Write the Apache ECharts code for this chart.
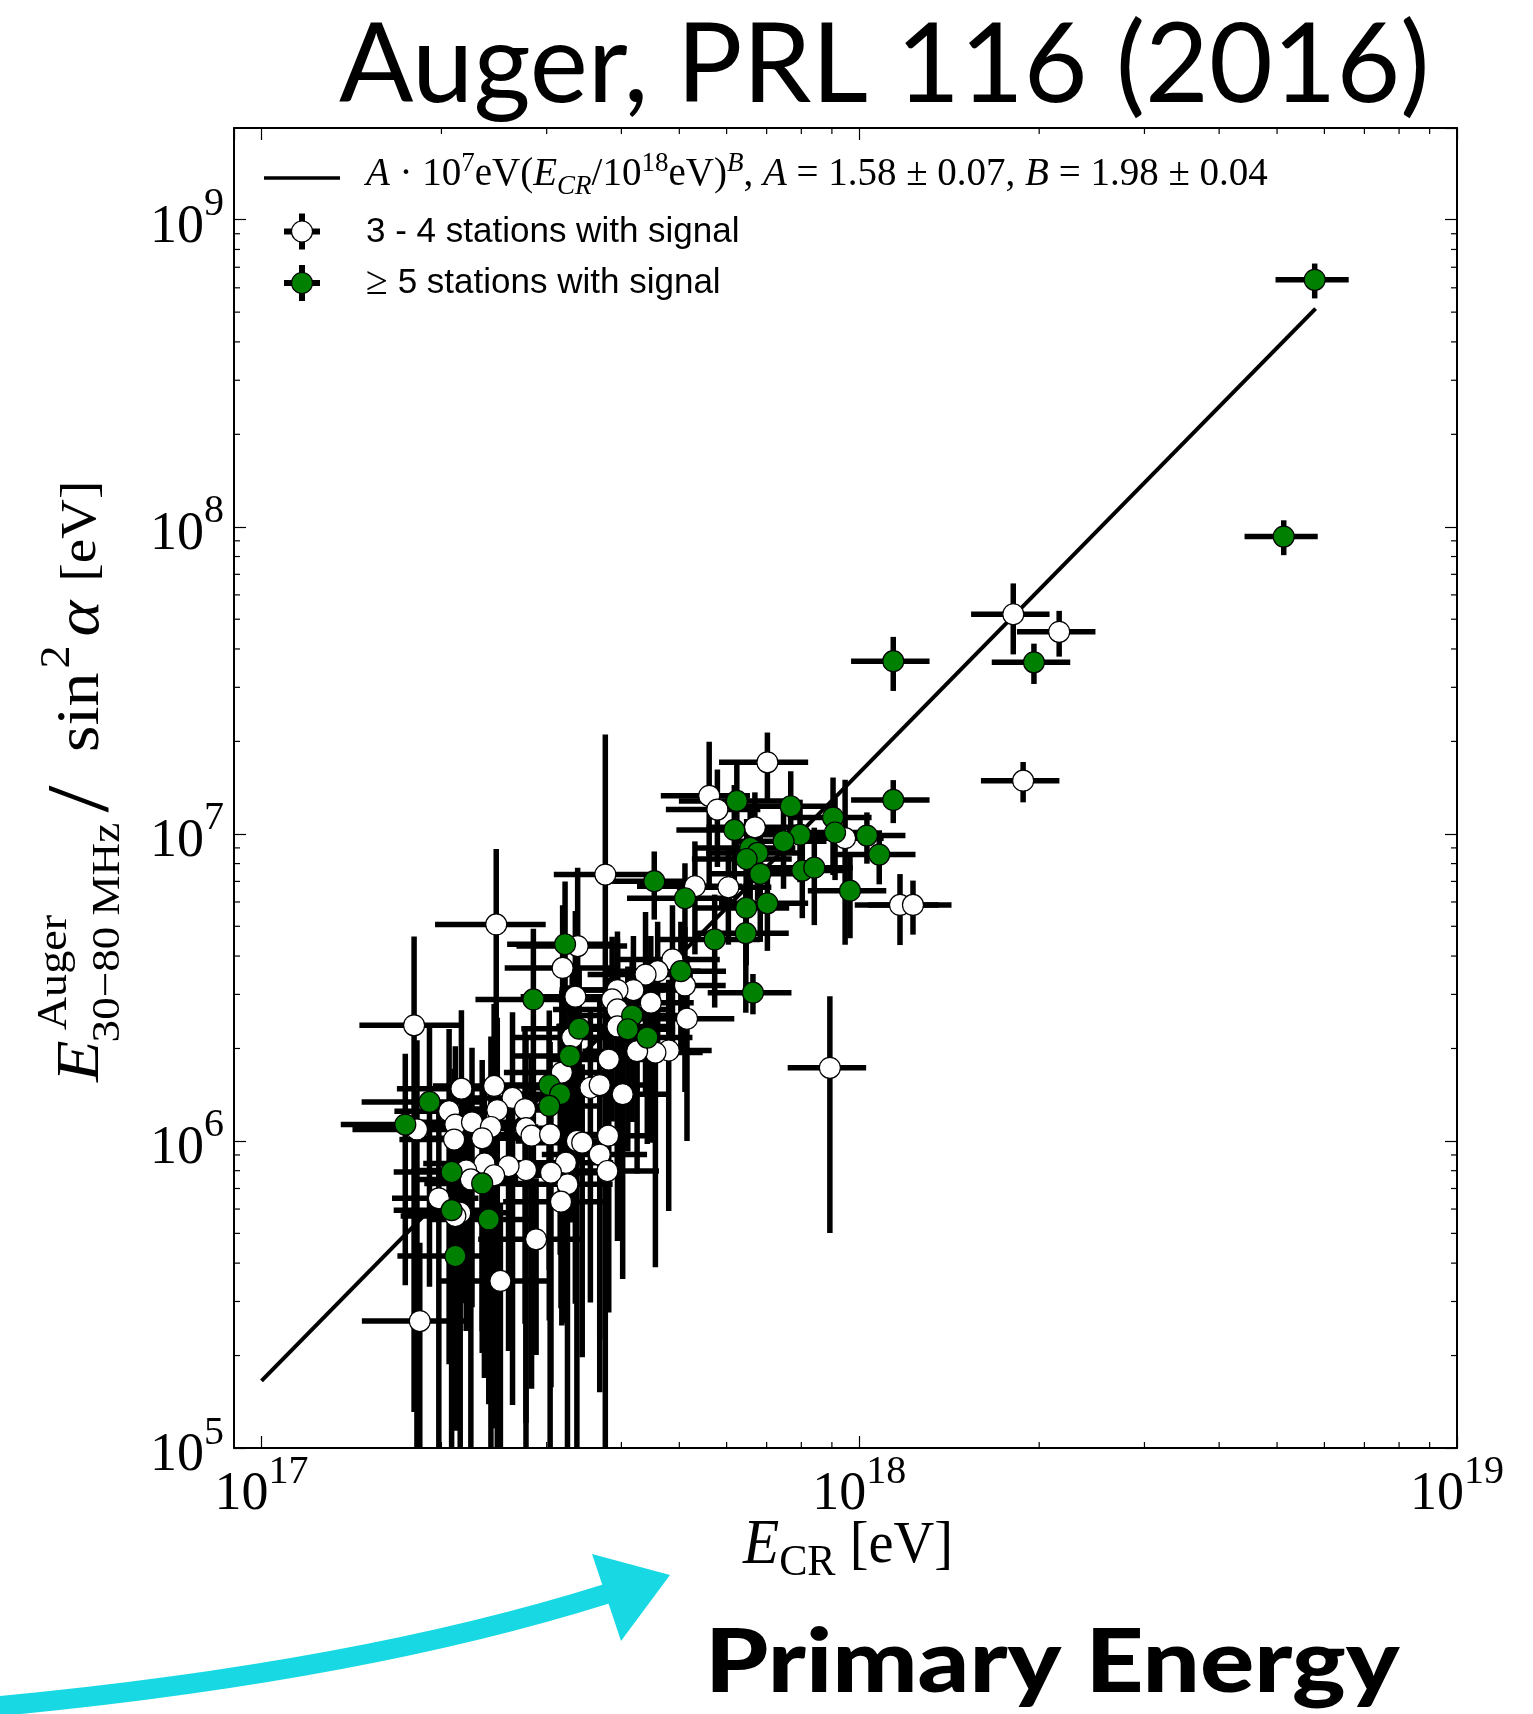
<!DOCTYPE html>
<html>
<head>
<meta charset="utf-8">
<title>Auger, PRL 116 (2016)</title>
<script src="https://cdn.jsdelivr.net/npm/echarts@6.0.0/dist/echarts.min.js"></script>
<style>
html,body{margin:0;padding:0;background:#ffffff;}
#chart{width:1533px;height:1714px;}
</style>
</head>
<body>
<div id="chart"></div>
<script>
// ---------------- data ----------------
// 3 - 4 stations with signal (open markers)
const whiteEnergy = [1.81e18, 2.16e18, 1.88e18, 8.93e17, 7.02e17, 5.61e17, 5.79e17, 6.69e17, 9.47e17, 1.17e18, 1.23e18,
  5.31e17, 6.04e17, 3.76e17, 2.47e17, 1.80e17, 4.87e17, 4.60e17, 4.39e17, 5.11e17, 4.19e17, 4.48e17, 5.15e17, 4.80e17,
  4.56e17, 4.25e17, 3.94e17, 3.86e17, 3.94e17, 3.38e17, 3.19e17, 3.35e17, 3.31e17, 3.94e17, 3.81e17,
  3.18e17, 3.55e17, 3.68e17, 4.02e17, 2.16e17, 2.45e17, 2.63e17, 2.76e17, 2.06e17, 2.48e17, 1.82e17, 2.11e17, 2.25e17,
  2.42e17, 2.10e17, 2.34e17, 2.77e17, 2.83e17, 3.04e17, 3.37e17, 3.44e17, 3.80e17, 3.68e17, 3.79e17, 3.23e17, 3.25e17,
  3.17e17, 3.05e17, 2.77e17, 2.59e17, 2.36e17, 2.45e17, 2.20e17, 2.24e17, 1.98e17, 2.15e17, 2.11e17, 2.88e17, 2.51e17, 1.84e17];
const whiteFluence = [5.19e7, 4.55e7, 1.49e7, 1.73e6, 1.71e7, 1.33e7, 1.20e7, 1.05e7, 9.68e6, 5.87e6, 5.87e6,
  6.75e6, 6.70e6, 7.37e6, 5.07e6, 2.38e6, 3.90e6, 3.57e6, 3.48e6, 3.21e6, 3.10e6, 2.82e6, 2.50e6, 1.97e6,
  1.94e6, 1.96e6, 3.10e6, 2.89e6, 2.68e6, 4.31e6, 3.66e6, 2.95e6, 2.17e6, 2.36e6, 1.84e6,
  1.67e6, 1.49e6, 1.52e6, 1.42e6, 1.48e6, 1.51e6, 1.38e6, 1.27e6, 1.25e6, 1.26e6, 1.09e6, 1.13e6, 1.15e6,
  1.11e6, 1.01e6, 1.02e6, 1.10e6, 1.04e6, 1.05e6, 1.00e6, 9.87e5, 1.04e6, 9.03e5, 7.98e5, 8.49e5, 7.22e5,
  6.34e5, 7.88e5, 8.04e5, 8.28e5, 8.45e5, 7.73e5, 8.01e5, 7.49e5, 6.50e5, 5.84e5, 5.69e5, 4.78e5, 3.50e5, 2.59e5];
// relative uncertainties (sigma / value)
const whiteRelErrEnergy = [0.15, 0.15, 0.15, 0.15, 0.17, 0.17, 0.18, 0.17, 0.16, 0.16, 0.16,
  0.20, 0.18, 0.18, 0.21, 0.19, 0.20, 0.18, 0.20, 0.17, 0.20, 0.18, 0.20, 0.18,
  0.20, 0.19, 0.20, 0.19, 0.22, 0.21, 0.20, 0.19, 0.20, 0.21, 0.20,
  0.20, 0.21, 0.19, 0.20, 0.22, 0.21, 0.20, 0.21, 0.19, 0.20, 0.22, 0.20, 0.21,
  0.20, 0.19, 0.21, 0.20, 0.18, 0.20, 0.21, 0.20, 0.19, 0.20, 0.22, 0.20, 0.19,
  0.20, 0.21, 0.20, 0.18, 0.21, 0.20, 0.19, 0.20, 0.165, 0.20, 0.19, 0.20, 0.21, 0.20];
const whiteRelErrFluence = [0.26, 0.17, 0.15, 0.71, 0.25, 0.50, 0.35, 0.30, 0.55, 0.26, 0.20,
  0.40, 0.35, 1.86, 0.76, 0.945, 0.50, 0.45, 0.60, 0.55, 0.50, 0.65, 0.60, 0.70,
  0.80, 0.60, 0.55, 0.60, 0.70, 0.80, 0.60, 0.90, 0.75, 0.80, 0.85,
  0.85, 0.80, 0.90, 0.75, 0.80, 0.85, 0.90, 0.80, 0.85, 1.00, 0.95, 0.80, 0.75,
  0.97, 0.70, 0.80, 0.95, 0.85, 1.00, 0.95, 0.80, 0.70, 0.75, 0.60, 0.70, 0.90,
  0.55, 0.80, 0.85, 0.75, 0.80, 0.85, 0.70, 0.95, 0.90, 0.95, 0.80, 0.58, 0.80, 0.80];

// >= 5 stations with signal (green markers)
const greenEnergy = [5.78e18, 5.13e18, 1.14e18, 1.96e18, 1.14e18, 6.24e17, 7.68e17, 9.04e17, 9.11e17, 1.03e18,
  1.08e18, 6.18e17, 7.96e17, 7.47e17, 6.57e17, 6.76e17, 6.48e17, 6.83e17, 8.03e17, 8.41e17,
  9.65e17, 4.54e17, 5.11e17, 6.47e17, 7.02e17, 5.73e17, 6.46e17, 6.64e17, 5.03e17, 4.17e17,
  4.10e17, 4.42e17, 3.22e17, 2.85e17, 3.40e17, 3.28e17, 3.03e17, 3.16e17, 3.03e17, 1.91e17,
  1.74e17, 2.08e17, 2.34e17, 2.08e17, 2.40e17, 2.11e17];
const greenFluence = [6.37e8, 9.29e7, 3.65e7, 3.62e7, 1.29e7, 1.28e7, 1.23e7, 1.13e7, 1.01e7, 9.87e6,
  8.56e6, 1.03e7, 9.94e6, 9.46e6, 9.00e6, 8.67e6, 8.28e6, 7.41e6, 7.59e6, 7.76e6,
  6.53e6, 7.01e6, 6.17e6, 5.74e6, 5.94e6, 4.53e6, 4.75e6, 3.04e6, 3.57e6, 2.56e6,
  2.31e6, 2.17e6, 4.37e6, 2.89e6, 2.32e6, 1.89e6, 1.52e6, 1.42e6, 1.30e6, 1.34e6,
  1.13e6, 7.92e5, 7.27e5, 5.95e5, 5.55e5, 4.22e5];
const greenRelErrEnergy = [0.14, 0.14, 0.15, 0.15, 0.15, 0.20, 0.17, 0.16, 0.17, 0.16,
  0.15, 0.20, 0.17, 0.18, 0.19, 0.18, 0.19, 0.18, 0.17, 0.16,
  0.15, 0.15, 0.20, 0.18, 0.17, 0.19, 0.18, 0.16, 0.19, 0.20,
  0.20, 0.19, 0.20, 0.20, 0.20, 0.20, 0.20, 0.20, 0.21, 0.23,
  0.22, 0.20, 0.20, 0.20, 0.20, 0.20];
const greenRelErrFluence = [0.13, 0.13, 0.20, 0.15, 0.16, 0.35, 0.30, 0.35, 0.30, 0.19,
  0.20, 0.40, 0.30, 0.30, 0.35, 0.30, 0.35, 0.40, 0.30, 0.35,
  0.30, 0.25, 0.30, 0.35, 0.30, 0.40, 0.45, 0.15, 0.45, 0.55,
  0.60, 0.55, 0.60, 0.70, 0.60, 0.70, 0.75, 0.70, 0.80, 0.75,
  0.70, 0.60, 0.67, 0.90, 0.75, 0.70];

// fit: A * 1e7 eV * (E / 1e18 eV)^B
const fitA = 1.58, fitB = 1.98;
const fitEnergyRange = [1e17, 5.8e18];

// axes
const xExponents = [17, 18, 19];
const yExponents = [5, 6, 7, 8, 9];
const X_MIN = Math.pow(10, 16.954), X_MAX = 1e19;
const Y_MIN = 1e5, Y_MAX = Math.pow(10, 9.2986);

// ---------------- build ----------------
function buildBars(E, S, rE, rS) {
  return E.map(function (e, i) {
    const se = e * rE[i], ss = S[i] * rS[i];
    const xl = Math.max(e - se, X_MIN), xh = Math.min(e + se, X_MAX);
    const yl = (S[i] - ss) > Y_MIN ? (S[i] - ss) : Y_MIN;
    const yh = Math.min(S[i] + ss, Y_MAX);
    return [e, S[i], xl, xh, yl, yh];
  });
}
const whiteBars = buildBars(whiteEnergy, whiteFluence, whiteRelErrEnergy, whiteRelErrFluence);
const greenBars = buildBars(greenEnergy, greenFluence, greenRelErrEnergy, greenRelErrFluence);
const whitePts = whiteEnergy.map(function (e, i) { return [e, whiteFluence[i]]; });
const greenPts = greenEnergy.map(function (e, i) { return [e, greenFluence[i]]; });
const fitData = fitEnergyRange.map(function (e) { return [e, fitA * 1e7 * Math.pow(e / 1e18, fitB)]; });

const xMinor = [], yMinor = [];
xExponents.slice(0, -1).forEach(function (p) { for (let m = 2; m <= 9; m++) xMinor.push([m * Math.pow(10, p), Y_MIN]); });
yExponents.forEach(function (p) { for (let m = 2; m <= 9; m++) { const v = m * Math.pow(10, p); if (v < Y_MAX) yMinor.push([X_MIN, v]); } });

const SERIF = 'Liberation Serif';
const tickRich = {
  b: { fontFamily: SERIF, fontSize: 54, lineHeight: 70, verticalAlign: 'bottom', color: '#000' },
  s: { fontFamily: SERIF, fontSize: 40, lineHeight: 34, verticalAlign: 'top', color: '#000' }
};
function powLabel(v) {
  const n = Math.round(Math.log10(v));
  return '{b|10}{s|' + n + '}';
}
function axisBase(extra) {
  return Object.assign({
    type: 'log', logBase: 10, gridIndex: 0,
    axisLine: { show: true, onZero: false, lineStyle: { color: '#000', width: 2 } },
    axisTick: { show: true, inside: true, length: 12, lineStyle: { color: '#000', width: 1.2 } },
    splitLine: { show: false }, minorTick: { show: false }, minorSplitLine: { show: false }
  }, extra);
}

function errRender(params, api) {
  const x = api.value(0), y = api.value(1);
  const pL = api.coord([api.value(2), y]), pH = api.coord([api.value(3), y]);
  const pB = api.coord([x, api.value(4)]), pT = api.coord([x, api.value(5)]);
  const st = { stroke: '#000', lineWidth: 5.5, lineCap: 'butt' };
  return {
    type: 'group', children: [
      { type: 'line', shape: { x1: pL[0], y1: pL[1], x2: pH[0], y2: pH[1] }, style: st },
      { type: 'line', shape: { x1: pB[0], y1: pB[1], x2: pT[0], y2: pT[1] }, style: st }
    ]
  };
}
function minorXRender(params, api) {
  const p = api.coord([api.value(0), Y_MIN]);
  const t = api.coord([api.value(0), Y_MAX]);
  const st = { stroke: '#000', lineWidth: 1.2 };
  return { type: 'group', children: [
    { type: 'line', shape: { x1: p[0], y1: p[1], x2: p[0], y2: p[1] - 6 }, style: st },
    { type: 'line', shape: { x1: t[0], y1: t[1], x2: t[0], y2: t[1] + 6 }, style: st }
  ] };
}
function minorYRender(params, api) {
  const p = api.coord([X_MIN, api.value(1)]);
  const r = api.coord([X_MAX, api.value(1)]);
  const st = { stroke: '#000', lineWidth: 1.2 };
  return { type: 'group', children: [
    { type: 'line', shape: { x1: p[0], y1: p[1], x2: p[0] + 6, y2: p[1] }, style: st },
    { type: 'line', shape: { x1: r[0], y1: r[1], x2: r[0] - 6, y2: r[1] }, style: st }
  ] };
}

// legend marker helper (graphic)
function legendMarker(cx, cy, fill) {
  const st = { stroke: '#000', lineWidth: 6 };
  return [
    { type: 'line', shape: { x1: cx - 18, y1: cy, x2: cx + 18, y2: cy }, style: st },
    { type: 'line', shape: { x1: cx, y1: cy - 18, x2: cx, y2: cy + 18 }, style: st },
    { type: 'circle', shape: { cx: cx, cy: cy, r: 10.5 }, style: { fill: fill, stroke: '#000', lineWidth: 1.2 } }
  ];
}

const legendFormulaRich = {
  m: { fontFamily: SERIF, fontSize: 39, lineHeight: 50, verticalAlign: 'middle', color: '#000' },
  i: { fontFamily: SERIF, fontStyle: 'italic', fontSize: 39, lineHeight: 50, verticalAlign: 'middle', color: '#000' },
  sp: { fontFamily: SERIF, fontSize: 27, lineHeight: 24, verticalAlign: 'top', color: '#000' },
  isp: { fontFamily: SERIF, fontStyle: 'italic', fontSize: 27, lineHeight: 24, verticalAlign: 'top', color: '#000' },
  sb: { fontFamily: SERIF, fontStyle: 'italic', fontSize: 27, lineHeight: 24, verticalAlign: 'bottom', color: '#000' }
};

const graphics = [].concat(
  [
    // title
    { type: 'text', x: 339, y: 67, style: { text: 'Auger, PRL 116 (2016)', fontFamily: 'Lato', fontSize: 110, fill: '#000', textAlign: 'left', verticalAlign: 'middle', textVerticalAlign: 'middle' } },
    // legend
    { type: 'line', shape: { x1: 264, y1: 178, x2: 340, y2: 178 }, style: { stroke: '#000', lineWidth: 3.5 } }
  ],
  legendMarker(302, 231.5, '#ffffff'),
  legendMarker(302, 283, '#008000'),
  [
    { type: 'text', x: 366, y: 175, style: {
        text: '{i|A}{m| · 10}{sp|7}{m|eV(}{i|E}{sb|CR}{m|/10}{sp|18}{m|eV)}{isp|B}{m|, }{i|A}{m| = 1.58 ± 0.07, }{i|B}{m| = 1.98 ± 0.04}',
        rich: legendFormulaRich, textAlign: 'left', verticalAlign: 'middle', textVerticalAlign: 'middle' } },
    { type: 'text', x: 366, y: 232, style: { text: '3 - 4 stations with signal', fontFamily: 'Liberation Sans', fontSize: 35, fill: '#000', textAlign: 'left', verticalAlign: 'middle', textVerticalAlign: 'middle' } },
    { type: 'text', x: 366, y: 283, style: { text: '{g|≥}{t| 5 stations with signal}', textAlign: 'left', verticalAlign: 'middle', textVerticalAlign: 'middle',
        rich: { g: { fontFamily: SERIF, fontSize: 40, color: '#000' }, t: { fontFamily: 'Liberation Sans', fontSize: 35, color: '#000' } } } },
    // x axis title
    { type: 'group', x: 848, y: 1546, scaleX: 0.94, children: [
      { type: 'text', x: 0, y: 0, style: { text: '{e|E}{s|CR}{n| [eV]}', textAlign: 'center', verticalAlign: 'middle', textVerticalAlign: 'middle',
        rich: {
          e: { fontFamily: SERIF, fontStyle: 'italic', fontSize: 63, lineHeight: 80, verticalAlign: 'middle', color: '#000' },
          s: { fontFamily: SERIF, fontSize: 45, lineHeight: 45, verticalAlign: 'bottom', color: '#000' },
          n: { fontFamily: SERIF, fontSize: 60, lineHeight: 80, verticalAlign: 'middle', color: '#000' }
        } } }
    ] },
    // y axis title (rotated)
    { type: 'group', x: 82, y: 1082, rotation: Math.PI / 2, scaleX: 1.1, children: [
      { type: 'text', x: 0, y: 0, style: { text: 'E', fontFamily: SERIF, fontStyle: 'italic', fontSize: 62, fill: '#000', textAlign: 'left', verticalAlign: 'middle', textVerticalAlign: 'middle' } },
      { type: 'text', x: 47, y: -27, style: { text: 'Auger', fontFamily: SERIF, fontSize: 42, fill: '#000', textAlign: 'left', verticalAlign: 'middle', textVerticalAlign: 'middle' } },
      { type: 'text', x: 36, y: 26, style: { text: '30−80 MHz', fontFamily: SERIF, fontSize: 41, fill: '#000', textAlign: 'left', verticalAlign: 'middle', textVerticalAlign: 'middle' } },
      { type: 'text', x: 245, y: 2, style: { text: '/', fontFamily: SERIF, fontSize: 88, fill: '#000', textAlign: 'left', verticalAlign: 'middle', textVerticalAlign: 'middle' } },
      { type: 'text', x: 300, y: 0, style: { text: 'sin', fontFamily: SERIF, fontSize: 62, fill: '#000', textAlign: 'left', verticalAlign: 'middle', textVerticalAlign: 'middle' } },
      { type: 'text', x: 376, y: -24, style: { text: '2', fontFamily: SERIF, fontSize: 42, fill: '#000', textAlign: 'left', verticalAlign: 'middle', textVerticalAlign: 'middle' } },
      { type: 'text', x: 405, y: 0, style: { text: 'α', fontFamily: SERIF, fontStyle: 'italic', fontSize: 62, fill: '#000', textAlign: 'left', verticalAlign: 'middle', textVerticalAlign: 'middle' } },
      { type: 'text', x: 455, y: 0, style: { text: '[eV]', fontFamily: SERIF, fontSize: 50, fill: '#000', textAlign: 'left', verticalAlign: 'middle', textVerticalAlign: 'middle' } }
    ] },
    // annotation arrow
    { type: 'bezierCurve', shape: { x1: 0, y1: 1706, x2: 606, y2: 1594, cpx1: 358, cpy1: 1672 },
      style: { stroke: '#18d9e3', lineWidth: 20, fill: null, lineCap: 'round' } },
    { type: 'polygon', shape: { points: [[592, 1554], [670, 1575], [621, 1641]] }, style: { fill: '#18d9e3' } },
    // annotation text
    { type: 'group', x: 705, y: 1664, scaleX: 1.15, children: [
      { type: 'text', x: 0, y: 0, style: { text: 'Primary Energy', fontFamily: 'Lato', fontWeight: 900, fontSize: 88, fill: '#000', textAlign: 'left', verticalAlign: 'middle', textVerticalAlign: 'middle' } }
    ] }
  ]
);

const chart = echarts.init(document.getElementById('chart'), null, { renderer: 'canvas' });
chart.setOption({
  animation: false,
  backgroundColor: '#ffffff',
  grid: { left: 234, right: 76, top: 128, bottom: 266, containLabel: false, outerBoundsMode: 'none' },
  xAxis: [
    axisBase({ position: 'bottom', min: X_MIN, max: X_MAX,
      axisLabel: { show: true, margin: 4, formatter: powLabel, rich: tickRich, showMinLabel: false, showMaxLabel: true, hideOverlap: false } }),
    axisBase({ position: 'top', min: X_MIN, max: X_MAX, axisLabel: { show: false } })
  ],
  yAxis: [
    axisBase({ position: 'left', min: Y_MIN, max: Y_MAX,
      axisLabel: { show: true, margin: 10, formatter: powLabel, rich: tickRich, showMinLabel: true, showMaxLabel: false, hideOverlap: false } }),
    axisBase({ position: 'right', min: Y_MIN, max: Y_MAX, axisLabel: { show: false } })
  ],
  series: [
    { name: 'fit', type: 'line', xAxisIndex: 0, yAxisIndex: 0, data: fitData, showSymbol: false, symbol: 'none',
      lineStyle: { color: '#000', width: 4 }, z: 1, silent: true },
    { name: 'bars34', type: 'custom', xAxisIndex: 0, yAxisIndex: 0, data: whiteBars, renderItem: errRender, z: 2, silent: true, encode: { x: 0, y: 1 } },
    { name: 'bars5', type: 'custom', xAxisIndex: 0, yAxisIndex: 0, data: greenBars, renderItem: errRender, z: 2, silent: true, encode: { x: 0, y: 1 } },
    { name: '3 - 4 stations with signal', type: 'scatter', xAxisIndex: 0, yAxisIndex: 0, data: whitePts, symbol: 'circle', symbolSize: 21,
      itemStyle: { color: '#ffffff', borderColor: '#000', borderWidth: 1.2, opacity: 1 }, z: 3, silent: true },
    { name: '>= 5 stations with signal', type: 'scatter', xAxisIndex: 0, yAxisIndex: 0, data: greenPts, symbol: 'circle', symbolSize: 21,
      itemStyle: { color: '#008000', borderColor: '#000', borderWidth: 1.2, opacity: 1 }, z: 4, silent: true },
    { name: 'xminor', type: 'custom', xAxisIndex: 0, yAxisIndex: 0, data: xMinor, renderItem: minorXRender, z: 5, silent: true, clip: false },
    { name: 'yminor', type: 'custom', xAxisIndex: 0, yAxisIndex: 0, data: yMinor, renderItem: minorYRender, z: 5, silent: true, clip: false }
  ],
  graphic: { elements: graphics }
});
</script>
</body>
</html>
